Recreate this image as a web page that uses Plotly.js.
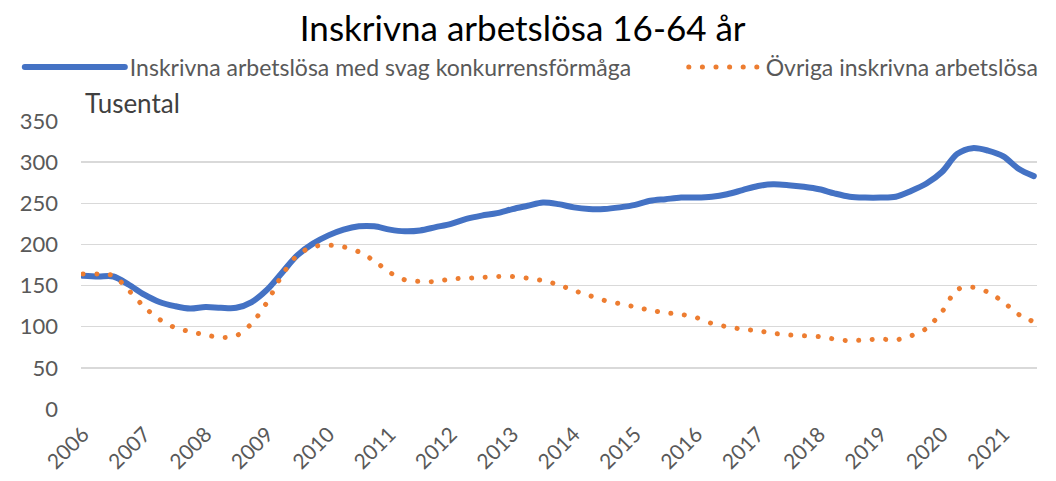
<!DOCTYPE html>
<html>
<head>
<meta charset="utf-8">
<script src="https://cdn.plot.ly/plotly-3.0.1.min.js"></script>
<style>html,body{margin:0;padding:0;background:#fff;}</style>
</head>
<body>
<div id="chart" style="width:1056px;height:481px;"></div>
<script>
// Quarterly observations, 2006 Q1 – 2021 Q3 (thousands)
const startYear = 2006;
const nQuarters = 63;
const svag = [162,161,161,151,139,130,125,122,124,123,123,130,145,166,187,201,
  211,218,222,222,218,216,217,221,225,231,235,238,243,247,251,249,
  245,243,243,245,248,253,255,257,257,258,261,266,271,273,272,270,
  267,262,258,257,257,258,265,274,288,310,317,314,307,292,283];
const ovriga = [164,164,162,144,124,109,99,94,90,87,89,104,130,163,187,197,
  199,197,191,180,166,157,155,155,158,159,160,161,161,159,156,151,
  144,138,132,128,124,120,117,115,111,104,100,97,95,92,90,89,
  88,85,83,84,85,84,89,98,118,145,148,142,130,115,106];
const yearLabels = ["2006","2007","2008","2009","2010","2011","2012","2013","2014","2015","2016","2017","2018","2019","2020","2021"];
const seriesNames = ["Inskrivna arbetslösa med svag konkurrensförmåga","Övriga inskrivna arbetslösa"];

const dates = [];
for (let i = 0; i < nQuarters; i++) {
  const y = startYear + Math.floor(i / 4);
  const m = (i % 4) * 3 + 1;
  dates.push(y + "-" + String(m).padStart(2, "0") + "-01");
}
const tickvals = yearLabels.map(y => y + "-01-01");

const font = "Lato, 'Open Sans', sans-serif";
const traces = [
  {x: dates, y: svag, name: seriesNames[0], type: "scatter", mode: "lines", legend: "legend",
   line: {color: "#4472C4", width: 6, shape: "spline", smoothing: 0.9}},
  {x: dates, y: ovriga, name: seriesNames[1], type: "scatter", mode: "lines", legend: "legend2",
   line: {color: "#ED7D31", width: 5, shape: "spline", smoothing: 0.9, dash: "0.1px,13.5px"}}
];
const legendBase = {orientation: "h", xanchor: "left", y: 1.1875, yanchor: "middle",
  font: {family: font, size: 23, color: "#595959"}, bgcolor: "rgba(0,0,0,0)"};
const layout = {
  width: 1056, height: 481,
  margin: {l: 81, r: 16, t: 121, b: 72},
  paper_bgcolor: "#fff", plot_bgcolor: "#fff",
  font: {family: font, color: "#595959"},
  title: {text: "Inskrivna arbetslösa 16-64 år", font: {family: font, size: 35, color: "#000"},
          x: 0.495, xanchor: "center", xref: "container", y: 0.94, yanchor: "middle", yref: "container"},
  showlegend: true,
  legend: Object.assign({}, legendBase, {x: -0.064, itemwidth: 100}),
  legend2: Object.assign({}, legendBase, {x: 0.6305, itemwidth: 72}),
  xaxis: {type: "date", range: ["2005-12-20", "2021-07-20"], tickvals: tickvals, ticktext: yearLabels,
          tickangle: -45, tickfont: {family: font, size: 21, color: "#595959"}, ticklabelstandoff: 8,
          showgrid: false, zeroline: false, showline: false, ticks: ""},
  yaxis: {range: [0, 350], dtick: 50, tick0: 0, showgrid: true, gridcolor: "#d9d9d9", gridwidth: 1.5,
          zeroline: false, showline: false, ticks: "", ticklabelstandoff: 22,
          tickfont: {family: font, size: 22, color: "#595959"}},
  annotations: [{text: "Tusental", xref: "paper", yref: "paper", x: 0.002, y: 1.0625,
                 xanchor: "left", yanchor: "middle", showarrow: false,
                 font: {family: font, size: 26, color: "#404040"}}]
};
Plotly.newPlot("chart", traces, layout, {displayModeBar: false, staticPlot: true}).then(function(gd){
  const paths = gd.querySelectorAll(".scatterlayer .trace path.js-line");
  paths.forEach(p => p.style.strokeLinecap = "round");
  const lp = gd.querySelectorAll(".legendlines path");
  lp.forEach(p => p.style.strokeLinecap = "round");
});
</script>
</body>
</html>
